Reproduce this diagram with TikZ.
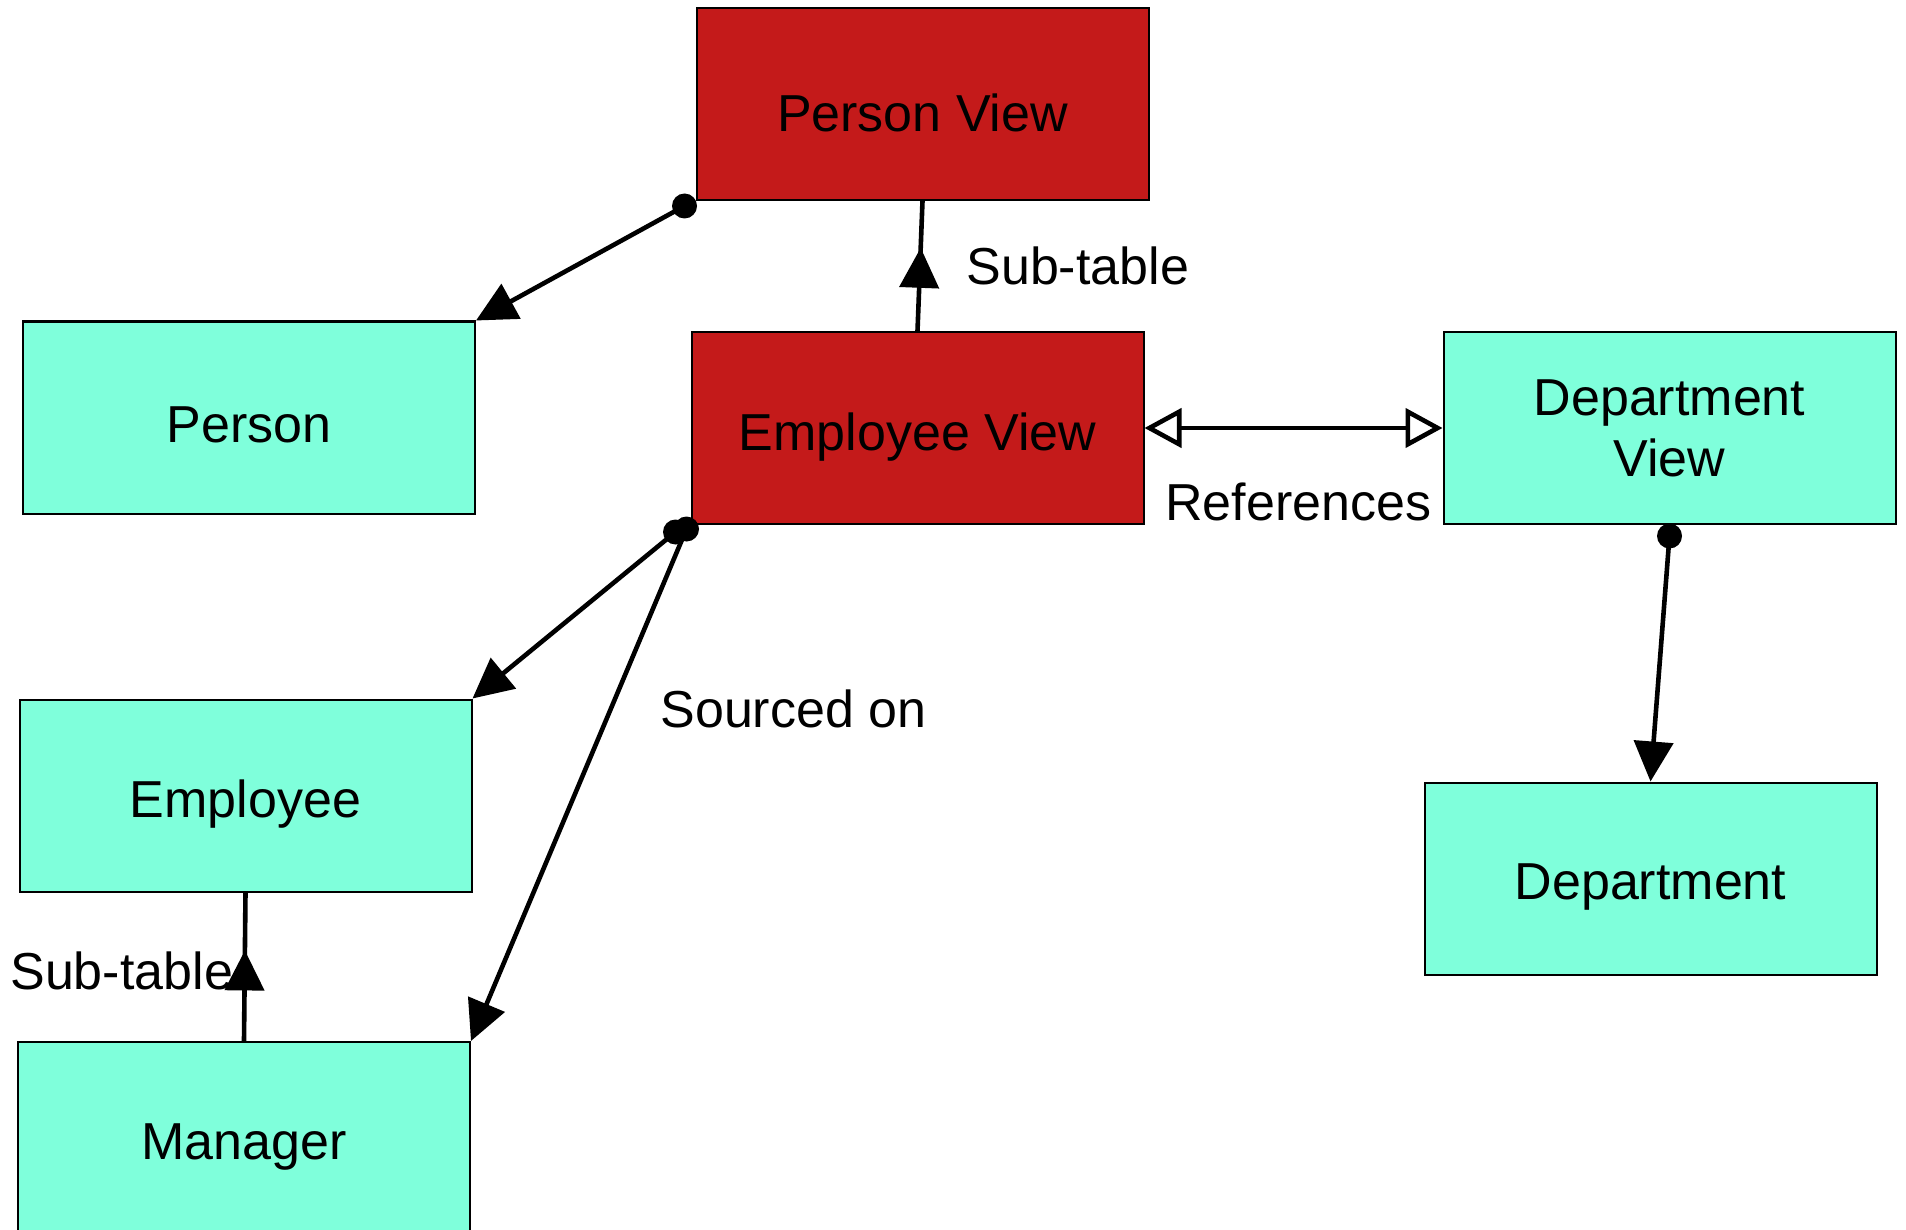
\documentclass[tikz,border=0pt]{standalone}
\usepackage{fontspec}
\setmainfont{Liberation Sans}
\usetikzlibrary{arrows.meta,decorations.markings}
\definecolor{boxred}{HTML}{C41A1A}
\definecolor{boxcyan}{HTML}{7FFFDB}
\begin{document}
\begin{tikzpicture}[x=0.5pt,y=-0.5pt,
 box/.style={draw=black, line width=1pt, minimum width=226pt, minimum height=96pt, inner sep=0pt, text height=22pt, text depth=0pt, font=\fontsize{26}{30.5}\selectfont},
 redbox/.style={box, fill=boxred},
 cyanbox/.style={box, fill=boxcyan},
 conn/.style={line width=2.3pt, draw=black},
 solidtip/.style={-{Triangle[length=20pt,width=19.5pt]}},
 opentips/.style={{Triangle[open,length=18.5pt,width=19.5pt]}-{Triangle[open,length=18.5pt,width=19.5pt]}},
 lbl/.style={anchor=base west, inner sep=0pt, font=\fontsize{26}{30.5}\selectfont},
 dot/.style={circle, fill=black, inner sep=0pt, minimum size=12.5pt},
 midarrow/.style={postaction={decorate}, decoration={markings, mark=at position #1 with {\arrow{Triangle[length=20pt,width=19.5pt]}}}}
]
\useasboundingbox (0,0) rectangle (1906,1230);

\node[redbox, text height=28pt] (pv) at (922.5,104) {Person View};
\node[redbox] (ev) at (917.5,428) {Employee View};
\node[cyanbox, align=center, text height={}, text depth={}] (dv) at (1669.5,428) {Department\\View};
\node[cyanbox, text height=25pt] (pe) at (249,417.5) {Person};
\node[cyanbox, text height=21.5pt] (em) at (245.5,795.5) {Employee};
\node[cyanbox, text height=21pt] (mg) at (244,1138) {Manager};
\node[cyanbox, text height=21pt] (de) at (1650.5,878.5) {Department};

\node[dot] (d1) at ([shift={(-11,5)}]pv.south west) {};
\node[dot] (d2) at ([shift={(-15,7)}]ev.south west) {};
\node[dot] (d3) at ([shift={(-4,4)}]ev.south west) {};
\node[dot] (d4) at ([shift={(0,11)}]dv.south) {};

\draw[conn, solidtip] (d1.center) -- (pe.north east);
\draw[conn, midarrow=0.64] (ev.north) -- (pv.south);
\draw[conn, opentips] (ev.east) -- (dv.west);
\draw[conn, solidtip] (d2.center) -- (em.north east);
\draw[conn, solidtip] (d3.center) -- (mg.north east);
\draw[conn, midarrow=0.61] (mg.north) -- (em.south);
\draw[conn, solidtip] (d4.center) -- (de.north);

\node[lbl] (l1) at (966,285) {Sub-table};
\node[lbl] (l2) at (1165,520) {References};
\node[lbl] (l3) at (660,727) {Sourced on};
\node[lbl] (l4) at (10,989) {Sub-table};
\end{tikzpicture}
\end{document}
